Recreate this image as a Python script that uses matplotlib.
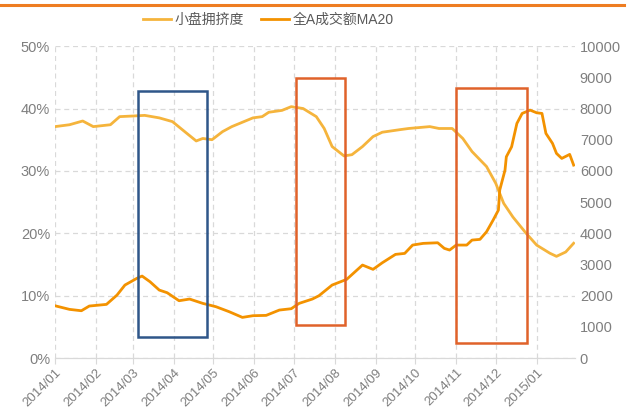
import pandas as pd
import matplotlib.pyplot as plt
import matplotlib.dates as mdates
from matplotlib.patches import Rectangle
from matplotlib.lines import Line2D

plt.rcParams['font.family'] = ['Liberation Sans', 'Noto Sans CJK SC', 'DejaVu Sans']

# 小盘拥挤度 (%)
crowd_dates = ["2014-01-01", "2014-01-12", "2014-01-22", "2014-01-30", "2014-02-12", "2014-02-19",
               "2014-03-01", "2014-03-10", "2014-03-21", "2014-03-31", "2014-04-11", "2014-04-18",
               "2014-04-23", "2014-04-30", "2014-05-08", "2014-05-15", "2014-05-31", "2014-06-07",
               "2014-06-12", "2014-06-22", "2014-06-29", "2014-07-08", "2014-07-18", "2014-07-24",
               "2014-07-30", "2014-08-08", "2014-08-14", "2014-08-22", "2014-08-30", "2014-09-06",
               "2014-09-19", "2014-09-26", "2014-10-12", "2014-10-19", "2014-10-29", "2014-11-06",
               "2014-11-13", "2014-11-24", "2014-12-01", "2014-12-07", "2014-12-14", "2014-12-24",
               "2015-01-01", "2015-01-11", "2015-01-16", "2015-01-23", "2015-01-29"]
crowd_vals = [37.1, 37.4, 38.0, 37.1, 37.4, 38.7,
              38.8, 38.9, 38.5, 37.9, 36.0, 34.8,
              35.2, 35.0, 36.3, 37.1, 38.5, 38.7,
              39.4, 39.7, 40.3, 40.0, 38.7, 36.8,
              33.9, 32.4, 32.6, 33.9, 35.5, 36.2,
              36.6, 36.8, 37.1, 36.8, 36.8, 35.2,
              33.1, 30.7, 28.0, 24.8, 22.6, 20.0,
              18.1, 16.8, 16.3, 17.0, 18.4]

# 全A成交额MA20 (亿元)
amt_dates = ["2014-01-01", "2014-01-12", "2014-01-21", "2014-01-27", "2014-02-09", "2014-02-17",
             "2014-02-23", "2014-03-04", "2014-03-08", "2014-03-14", "2014-03-21", "2014-03-27",
             "2014-04-05", "2014-04-13", "2014-04-23", "2014-05-03", "2014-05-13", "2014-05-23",
             "2014-05-31", "2014-06-10", "2014-06-20", "2014-06-29", "2014-07-05", "2014-07-15",
             "2014-07-20", "2014-07-30", "2014-08-10", "2014-08-22", "2014-08-30", "2014-09-06",
             "2014-09-16", "2014-09-23", "2014-09-29", "2014-10-07", "2014-10-18", "2014-10-23",
             "2014-10-27", "2014-11-01", "2014-11-09", "2014-11-13", "2014-11-19", "2014-11-24",
             "2014-11-29", "2014-12-03", "2014-12-04", "2014-12-08", "2014-12-09", "2014-12-13",
             "2014-12-17", "2014-12-21", "2014-12-27", "2015-01-01", "2015-01-05", "2015-01-08",
             "2015-01-13", "2015-01-16", "2015-01-20", "2015-01-26", "2015-01-29"]
amt_vals = [1676, 1560, 1516, 1667, 1720, 2019,
            2340, 2554, 2628, 2446, 2179, 2094,
            1837, 1891, 1752, 1645, 1485, 1303,
            1357, 1367, 1538, 1581, 1752, 1891,
            1997, 2340, 2522, 2981, 2843, 3054,
            3323, 3355, 3622, 3676, 3696, 3516,
            3462, 3622, 3622, 3782, 3804, 4048,
            4423, 4744, 5385, 6026, 6452, 6773,
            7522, 7843, 7949, 7863, 7843, 7202,
            6881, 6561, 6400, 6529, 6186]

# highlight boxes: start, end, low %, high %, colour
box_starts = ["2014-03-05", "2014-07-03", "2014-11-01"]
box_ends = ["2014-04-26", "2014-08-09", "2014-12-25"]
box_lows = [3.4, 5.3, 2.4]
box_highs = [42.8, 44.9, 43.3]
box_colors = ["#2F5689", "#E0622A", "#E0622A"]

month_ticks = pd.date_range("2014-01-01", "2015-01-01", freq="MS")

fig = plt.figure(figsize=(6.27, 4.12), dpi=100)
ax = fig.add_axes([0.0877, 0.131, 0.8293, 0.757])
ax2 = ax.twinx()

ax.plot(pd.to_datetime(crowd_dates), crowd_vals, color="#F5B43C", lw=2.0, label="小盘拥挤度")
ax2.plot(pd.to_datetime(amt_dates), amt_vals, color="#F39200", lw=2.0, label="全A成交额MA20")

ax.set_xlim(pd.Timestamp("2014-01-01"), pd.Timestamp("2015-01-30"))
ax.set_ylim(0, 50)
ax2.set_ylim(0, 10000)
ax.set_yticks(range(0, 51, 10))
ax.set_yticklabels([f"{v}%" for v in range(0, 51, 10)])
ax2.set_yticks(range(0, 10001, 1000))
ax.set_xticks(month_ticks)
ax.set_xticklabels([d.strftime("%Y/%m") for d in month_ticks], rotation=45,
                   ha="right", rotation_mode="anchor")

for a in (ax, ax2):
    for s in ("top", "left", "right"):
        a.spines[s].set_visible(False)
    a.spines["bottom"].set_color("#d9d9d9")
    a.tick_params(length=0, labelsize=10.5, colors="#7f7f7f")
ax.tick_params(axis="x", length=4, color="#d9d9d9", pad=2, labelsize=9.5)
ax.grid(True, color="#d9d9d9", ls=(0, (4, 3)), lw=0.9)
ax.set_axisbelow(True)

for s, e, lo, hi, c in zip(box_starts, box_ends, box_lows, box_highs, box_colors):
    x0 = mdates.date2num(pd.Timestamp(s))
    x1 = mdates.date2num(pd.Timestamp(e))
    r = Rectangle((x0, lo), x1 - x0, hi - lo, fill=False, ec=c, lw=1.8,
                  transform=ax.transData, zorder=5)
    ax2.add_patch(r)

h1, l1 = ax.get_legend_handles_labels()
h2, l2 = ax2.get_legend_handles_labels()
fig.legend(h1 + h2, l1 + l2, loc="center", bbox_to_anchor=(0.428, 0.951), ncol=2,
           frameon=False, fontsize=10, labelcolor="#595959", handlelength=2.0,
           columnspacing=1.2, handletextpad=0.3)

fig.add_artist(Line2D([0, 0.995], [0.988, 0.988], color="#EE7D22", lw=2.2,
                      transform=fig.transFigure))

fig.savefig("out.png", dpi=100)
